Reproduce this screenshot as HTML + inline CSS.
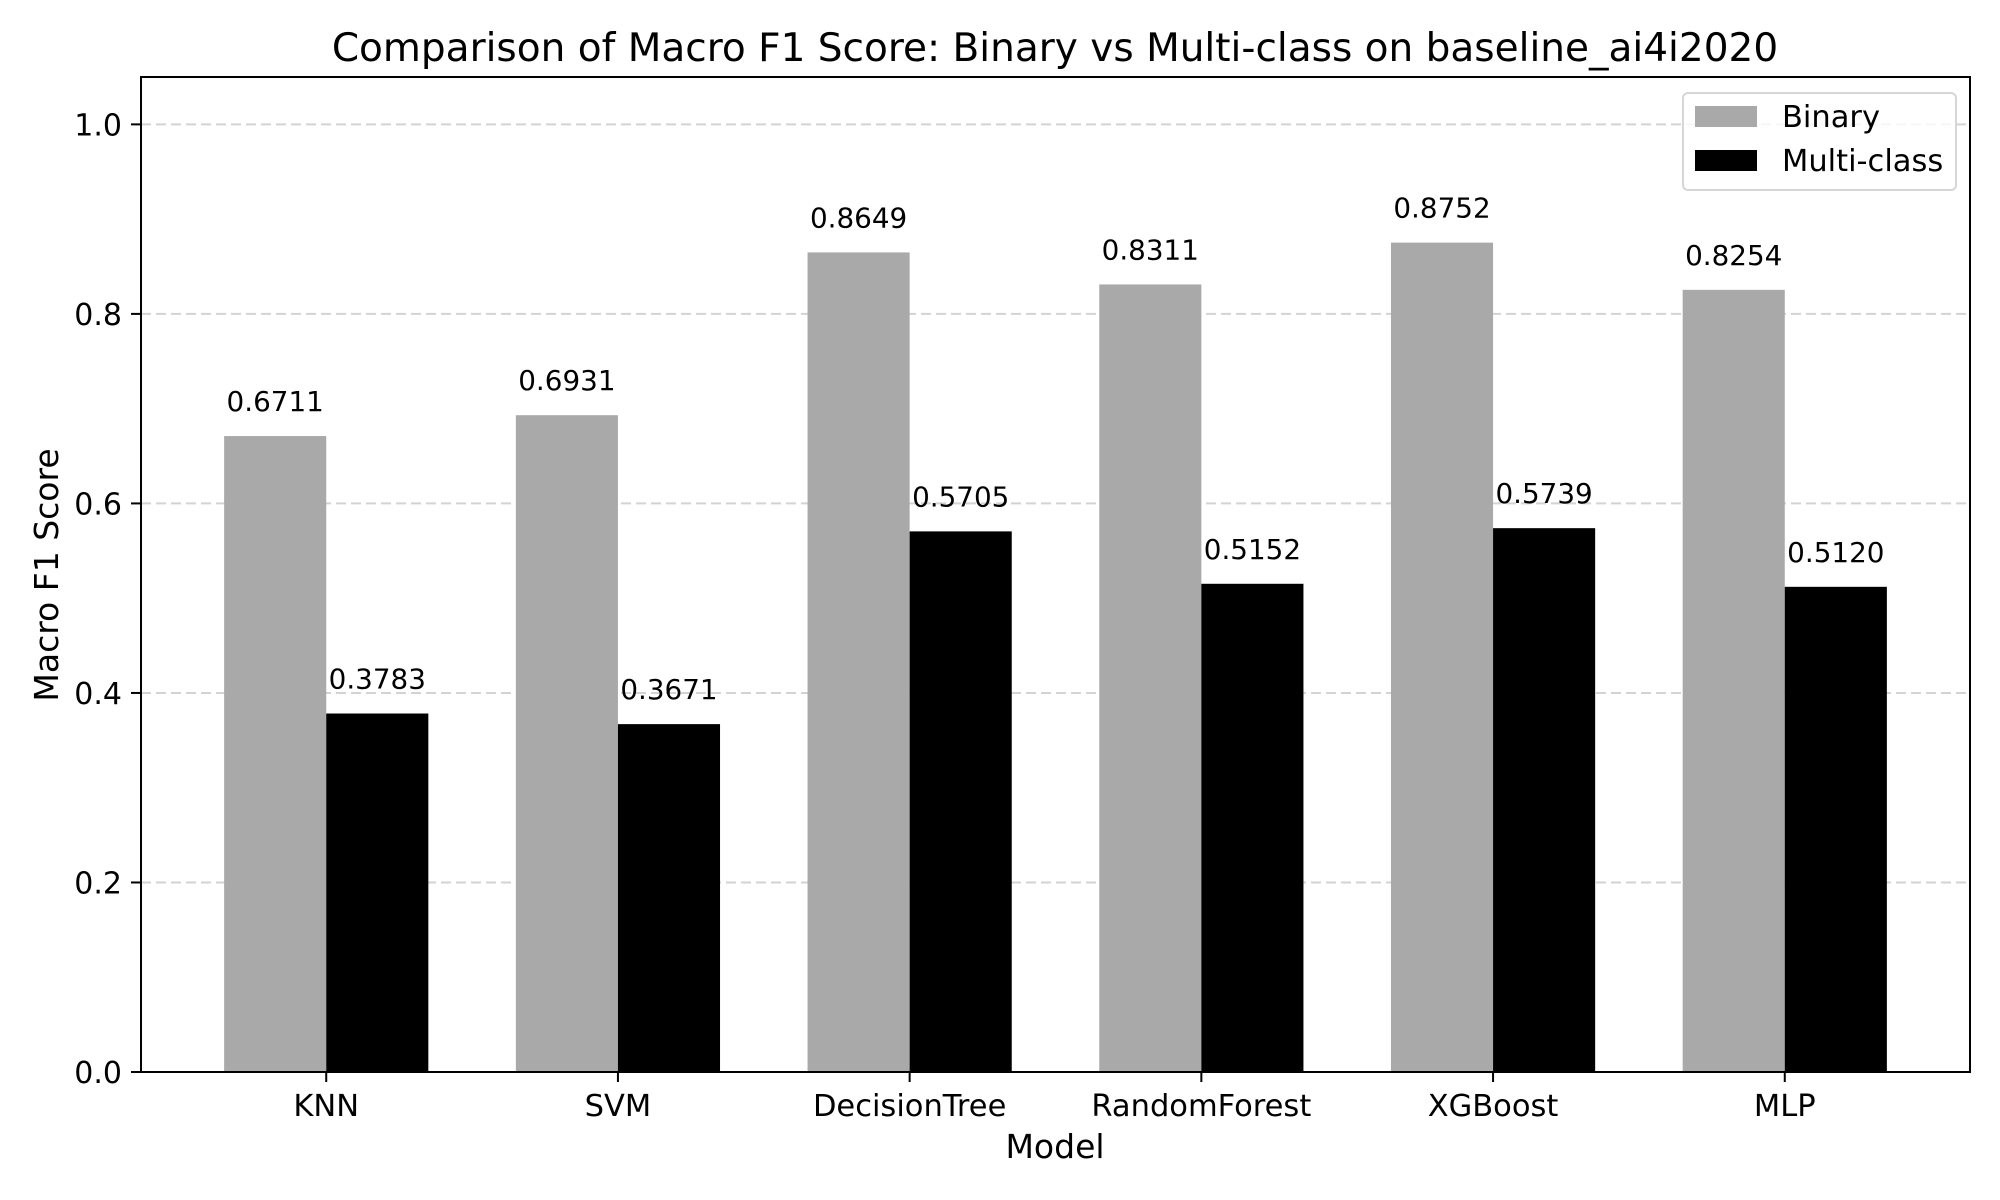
<!DOCTYPE html>
<html><head><meta charset="utf-8"><style>
html,body{margin:0;padding:0;background:#fff;}
svg{display:block;font-family:"DejaVu Sans","Liberation Sans",sans-serif;}
</style></head><body>
<svg id="chart" width="2000" height="1200" viewBox="0 0 2000 1200" xmlns="http://www.w3.org/2000/svg">
<rect width="2000" height="1200" fill="#fff"/>
<g id="grid"></g>
<g id="bars"></g>
<g id="labels"></g>
<g id="axes"></g>
<text x="1055" y="61" font-size="39" text-anchor="middle">Comparison of Macro F1 Score: Binary vs Multi-class on baseline_ai4i2020</text>
<text x="1055" y="1158" font-size="33" text-anchor="middle">Model</text>
<text transform="translate(58,575) rotate(-90)" font-size="33" text-anchor="middle">Macro F1 Score</text>
<g>
<rect x="1683" y="93" width="273" height="97" rx="5" fill="#fff" fill-opacity="0.8" stroke="#d6d6d6" stroke-width="2"/>
<rect x="1695" y="106" width="62" height="21" fill="#a9a9a9"/>
<text x="1782" y="127" font-size="30.5">Binary</text>
<rect x="1695" y="150" width="62" height="21" fill="#000"/>
<text x="1782" y="171" font-size="30.5">Multi-class</text>
</g>
</svg>
<script>
const categories = ["KNN","SVM","DecisionTree","RandomForest","XGBoost","MLP"];
const binaryValues = [0.6711,0.6931,0.8649,0.8311,0.8752,0.8254];
const multiValues = [0.3783,0.3671,0.5705,0.5152,0.5739,0.5120];
const yTicks = [0.0,0.2,0.4,0.6,0.8,1.0];
const yTickLabels = ["0.0","0.2","0.4","0.6","0.8","1.0"];

const NS="http://www.w3.org/2000/svg";
const L=141,R=1970,T=77,B=1072;
const yMax=1.05, barW=0.35;
const xMin=-0.35-0.285, xMax=categories.length-1+0.35+0.285;
function xs(v){return L+(v-xMin)/(xMax-xMin)*(R-L);}
function ys(v){return B-v/yMax*(B-T);}
function mk(tag,attrs,parent){const e=document.createElementNS(NS,tag);for(const k in attrs)e.setAttribute(k,attrs[k]);parent.appendChild(e);return e;}
const grid=document.getElementById('grid'),bars=document.getElementById('bars'),labels=document.getElementById('labels'),axes=document.getElementById('axes');
yTicks.forEach((t,i)=>{
  const y=ys(t);
  const g=mk('line',{x1:L,x2:R,y1:y,y2:y,stroke:'#d3d3d3','stroke-width':2,'stroke-dasharray':'10,5'},grid);
  
  
  const tk=mk('line',{x1:L-10,x2:L,y1:y,y2:y,stroke:'#000','stroke-width':2},axes);
  
  
  const tl=mk('text',{x:L-19,y:y+11,'font-size':30,'text-anchor':'end'},axes);
  tl.textContent=yTickLabels[i];
  
  
});
categories.forEach((c,i)=>{
  const x0=xs(i-barW), xc=xs(i), x1=xs(i+barW);
  const b1=mk('rect',{x:x0,y:ys(binaryValues[i]),width:xc-x0,height:B-ys(binaryValues[i]),fill:'#a9a9a9'},bars);
  
  
  const b2=mk('rect',{x:xc,y:ys(multiValues[i]),width:x1-xc,height:B-ys(multiValues[i]),fill:'#000'},bars);
  
  
  const v1=mk('text',{x:(x0+xc)/2,y:ys(binaryValues[i])-25,'font-size':27.8,'text-anchor':'middle'},labels);
  v1.textContent=binaryValues[i].toFixed(4);
  
  
  const v2=mk('text',{x:(xc+x1)/2,y:ys(multiValues[i])-25,'font-size':27.8,'text-anchor':'middle'},labels);
  v2.textContent=multiValues[i].toFixed(4);
  
  
  const tk=mk('line',{x1:xc,x2:xc,y1:B,y2:B+10,stroke:'#000','stroke-width':2},axes);
  
  
  const tl=mk('text',{x:xc,y:1116,'font-size':30.5,'text-anchor':'middle'},axes);
  tl.textContent=c;
  
  
});
const frame=mk('rect',{x:L,y:T,width:R-L,height:B-T,fill:'none',stroke:'#000','stroke-width':2},axes);


</script>
</body></html>
